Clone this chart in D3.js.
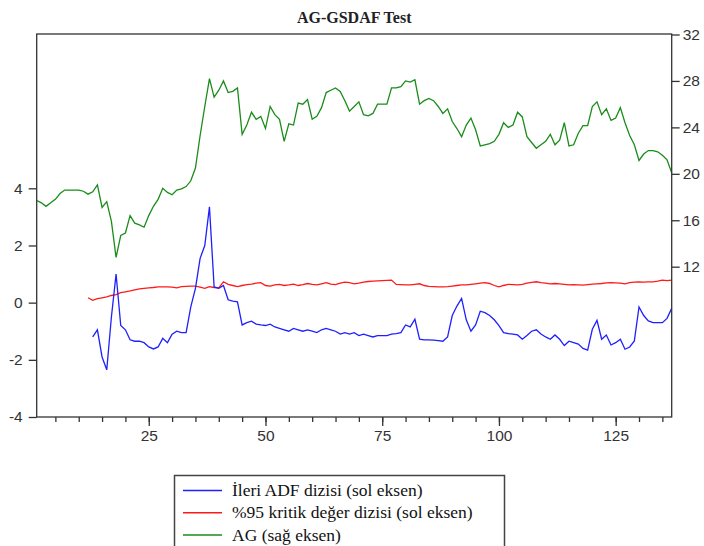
<!DOCTYPE html>
<html>
<head>
<meta charset="utf-8">
<script src="https://cdn.jsdelivr.net/npm/d3@7"></script>
<style>
  body { margin: 0; background: #fff; }
  svg text { font-family: "Liberation Sans", Arial, sans-serif; }
</style>
</head>
<body>
<svg id="chart" width="704" height="546"></svg>
<script>
// observations 1..137
var agValues = [17.7, 17.5, 17.2, 17.5, 17.8, 18.3, 18.6, 18.6, 18.6, 18.6,
  18.5, 18.25, 18.45, 19.05, 17.1, 17.6, 15.9, 12.8, 14.7, 14.9,
  16.4, 15.75, 15.6, 15.4, 16.4, 17.2, 17.8, 18.75, 18.4, 18.2,
  18.6, 18.7, 18.9, 19.4, 20.5, 23.3, 25.8, 28.2, 26.6, 27.2,
  28.0, 27.0, 27.1, 27.4, 23.4, 24.2, 25.3, 24.7, 24.95, 23.9,
  25.8, 25.1, 24.7, 22.8, 24.3, 24.2, 26.1, 26.0, 26.4, 24.7,
  24.95, 25.7, 27.0, 27.2, 27.4, 27.1, 26.3, 25.4, 25.8, 26.2,
  25.1, 25.0, 25.2, 26.0, 26.0, 26.0, 27.4, 27.4, 27.5, 28.0,
  27.9, 28.1, 26.0, 26.3, 26.5, 26.3, 25.8, 25.2, 25.6, 24.5,
  23.9, 23.2, 24.2, 24.8, 23.8, 22.4, 22.5, 22.6, 22.8, 23.4,
  24.4, 24.0, 24.2, 25.3, 24.9, 23.2, 22.7, 22.2, 22.5, 22.8,
  23.4, 22.5, 22.9, 24.4, 22.4, 22.5, 23.5, 24.15, 24.15, 25.8,
  26.2, 25.1, 25.6, 24.6, 24.8, 25.7, 24.4, 23.3, 22.5, 21.15,
  21.7, 22.0, 22.0, 21.9, 21.6, 21.2, 20.1];

// forward ADF sequence, starts at observation 13
var adfStart = 13;
var adfValues = [-1.2, -0.95, -1.9, -2.35, -0.5, 1.0, -0.8, -0.95, -1.3, -1.35,
  -1.35, -1.4, -1.55, -1.62, -1.55, -1.25, -1.4, -1.1, -1.0, -1.05,
  -1.05, -0.15, 0.5, 1.55, 2.0, 3.35, 0.55, 0.5, 0.6, 0.1,
  0.05, 0.03, -0.78, -0.7, -0.65, -0.75, -0.78, -0.8, -0.75, -0.85,
  -0.9, -0.95, -1.0, -0.9, -0.95, -1.0, -0.95, -1.0, -1.05, -0.95,
  -0.9, -0.95, -1.0, -1.1, -1.05, -1.1, -1.05, -1.15, -1.1, -1.15,
  -1.2, -1.15, -1.15, -1.15, -1.1, -1.08, -1.05, -0.78, -0.85, -0.58,
  -1.28, -1.3, -1.3, -1.31, -1.33, -1.35, -1.2, -0.45, -0.12, 0.15,
  -0.6, -1.0, -0.78, -0.3, -0.35, -0.45, -0.6, -0.8, -1.05, -1.08,
  -1.1, -1.13, -1.28, -1.15, -1.0, -0.95, -1.1, -1.2, -1.28, -1.13,
  -1.28, -1.5, -1.35, -1.4, -1.45, -1.6, -1.66, -0.93, -0.62, -1.28,
  -1.13, -1.48, -1.4, -1.28, -1.63, -1.55, -1.34, -0.15, -0.45, -0.64,
  -0.7, -0.7, -0.7, -0.55, -0.2];

// 95% critical values, starts at observation 12
var critStart = 12;
var critValues = [0.17, 0.08, 0.14, 0.17, 0.2, 0.25, 0.28, 0.35, 0.38, 0.41,
  0.45, 0.48, 0.5, 0.52, 0.53, 0.55, 0.55, 0.55, 0.54, 0.52,
  0.56, 0.57, 0.58, 0.58, 0.54, 0.5, 0.56, 0.53, 0.52, 0.73,
  0.64, 0.6, 0.56, 0.6, 0.63, 0.65, 0.68, 0.7, 0.6, 0.58,
  0.62, 0.64, 0.6, 0.62, 0.65, 0.6, 0.63, 0.67, 0.64, 0.62,
  0.66, 0.7, 0.65, 0.63, 0.68, 0.72, 0.7, 0.66, 0.68, 0.72,
  0.74, 0.75, 0.76, 0.77, 0.78, 0.79, 0.64, 0.63, 0.62, 0.62,
  0.64, 0.66, 0.6, 0.57, 0.56, 0.55, 0.55, 0.56, 0.58, 0.6,
  0.62, 0.62, 0.64, 0.66, 0.68, 0.7, 0.67, 0.6, 0.55, 0.6,
  0.64, 0.63, 0.62, 0.64, 0.68, 0.71, 0.73, 0.7, 0.68, 0.66,
  0.67, 0.66, 0.64, 0.62, 0.63, 0.62, 0.61, 0.63, 0.65, 0.66,
  0.67, 0.69, 0.7, 0.69, 0.68, 0.66, 0.7, 0.72, 0.73, 0.72,
  0.73, 0.73, 0.75, 0.79, 0.77, 0.79];

var xMinor = d3.range(5, 137, 5);
var xMajor = [25, 50, 75, 100, 125];
var leftTicks = [-4, -2, 0, 2, 4];
var rightTicks = [12, 16, 20, 24, 28, 32];

var legendItems = [
  { label: "İleri ADF dizisi (sol eksen)", color: "#1f1fff" },
  { label: "%95 kritik değer dizisi (sol eksen)", color: "#ff1a1a" },
  { label: "AG (sağ eksen)", color: "#1a8c1a" }
];

var svg = d3.select("#chart");
var plotL = 36.7, plotR = 671.7, plotT = 34, plotB = 417;

var x = d3.scaleLinear().domain([1, 137]).range([plotL, plotR]);
var yL = d3.scaleLinear().domain([-4, 4]).range([417, 188.3]);
var yR = d3.scaleLinear().domain([12, 32]).range([266.7, 34.5]);

// plain hyphen minus like the original
var fmt = function(d) { return String(d); };

// title
svg.append("text")
  .attr("x", (plotL + plotR) / 2).attr("y", 23)
  .attr("text-anchor", "middle")
  .style("font-family", "'Liberation Serif', 'Times New Roman', serif")
  .style("font-size", "16px")
  .style("font-weight", "bold")
  .attr("fill", "#222")
  .text("AG-GSDAF Test");

function toPoints(vals, start) {
  return vals.map(function(v, k) { return { i: start + k, v: v }; });
}

var lineL = d3.line().x(function(d) { return x(d.i); }).y(function(d) { return yL(d.v); });
var lineR = d3.line().x(function(d) { return x(d.i); }).y(function(d) { return yR(d.v); });

svg.append("path").datum(toPoints(agValues, 1))
  .attr("d", lineR).attr("fill", "none")
  .attr("stroke", legendItems[2].color).attr("stroke-width", 1.3);

svg.append("path").datum(toPoints(critValues, critStart))
  .attr("d", lineL).attr("fill", "none")
  .attr("stroke", legendItems[1].color).attr("stroke-width", 1.3);

svg.append("path").datum(toPoints(adfValues, adfStart))
  .attr("d", lineL).attr("fill", "none")
  .attr("stroke", legendItems[0].color).attr("stroke-width", 1.3);

// frame
svg.append("rect")
  .attr("x", plotL).attr("y", plotT)
  .attr("width", plotR - plotL).attr("height", plotB - plotT)
  .attr("fill", "none").attr("stroke", "#333").attr("stroke-width", 1.3);

function styleAxis(g) {
  g.select(".domain").remove();
  g.selectAll(".tick line").attr("stroke", "#333").attr("stroke-width", 1.3);
  g.selectAll(".tick text").attr("fill", "#333").style("font-size", "15.5px");
}

// bottom axis: minor and labelled ticks
svg.append("g")
  .attr("transform", "translate(0," + plotB + ")")
  .call(d3.axisBottom(x).tickValues(xMinor).tickSize(5).tickFormat(""))
  .call(styleAxis);

svg.append("g")
  .attr("transform", "translate(0," + plotB + ")")
  .call(d3.axisBottom(x).tickValues(xMajor).tickSize(9).tickPadding(4).tickFormat(fmt))
  .call(styleAxis);

svg.append("g")
  .attr("transform", "translate(" + plotL + ",0)")
  .call(d3.axisLeft(yL).tickValues(leftTicks).tickSize(8).tickPadding(6).tickFormat(fmt))
  .call(styleAxis);

svg.append("g")
  .attr("transform", "translate(" + plotR + ",0)")
  .call(d3.axisRight(yR).tickValues(rightTicks).tickSize(8).tickPadding(3).tickFormat(fmt))
  .call(styleAxis);

// legend
var lg = svg.append("g");
lg.append("rect")
  .attr("x", 174.5).attr("y", 475.5)
  .attr("width", 330).attr("height", 90)
  .attr("fill", "#fff").attr("stroke", "#444").attr("stroke-width", 1.5);

var rows = lg.selectAll(".item").data(legendItems).enter().append("g")
  .attr("transform", function(d, k) { return "translate(0," + (490.5 + k * 22.3) + ")"; });

rows.append("line")
  .attr("x1", 183).attr("x2", 222).attr("y1", 0).attr("y2", 0)
  .attr("stroke", function(d) { return d.color; }).attr("stroke-width", 1.5);

rows.append("text")
  .attr("x", 232).attr("y", 5.5)
  .style("font-family", "'Liberation Serif', 'Times New Roman', serif")
  .style("font-size", "17.5px")
  .attr("fill", "#111")
  .text(function(d) { return d.label; });
</script>
</body>
</html>
